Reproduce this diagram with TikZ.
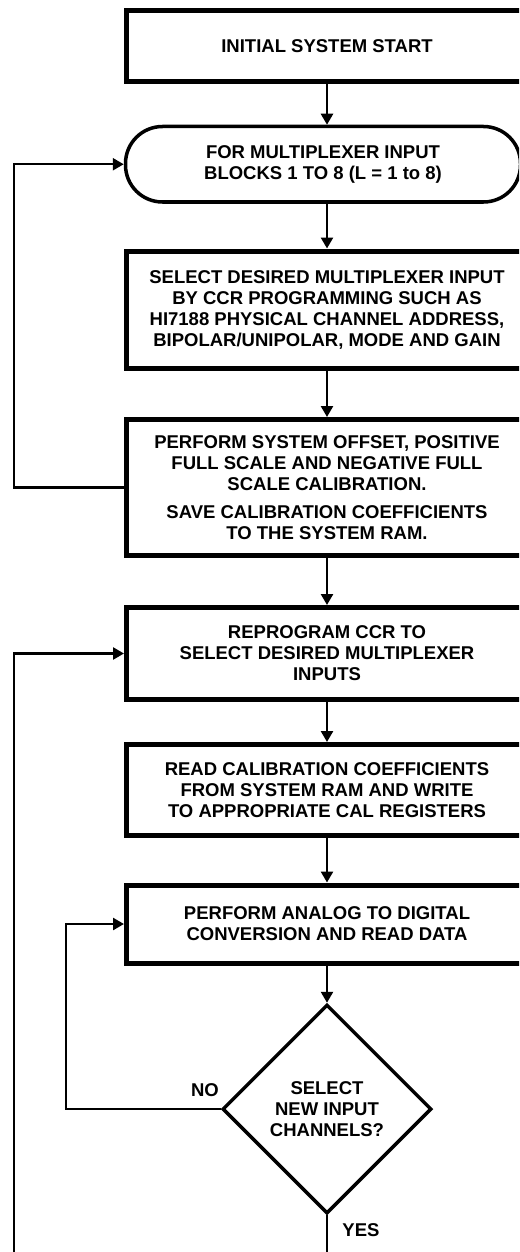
\documentclass[tikz,border=0pt]{standalone}
\usepackage{fontspec}
\setmainfont{Liberation Sans}
\usetikzlibrary{arrows.meta,shapes.geometric}
\begin{document}
\begin{tikzpicture}[x=1pt,y=-1pt,
  font={\fontsize{18.5}{21}\selectfont\bfseries},
  procbox/.style={draw, line width=5pt, rectangle, minimum width=401pt,
    inner sep=0pt, align=center},
  termbox/.style={draw, line width=3.5pt, rectangle, rounded corners=37pt,
    minimum width=395pt, minimum height=75.5pt, inner sep=0pt, align=center},
  decide/.style={draw, line width=3.5pt, diamond, minimum width=209pt,
    minimum height=209pt, inner sep=0pt, align=center},
  flow/.style={line width=2.5pt, -{Triangle[length=11pt,width=12pt]}},
  plain/.style={line width=2.5pt},
  tag/.style={inner sep=0pt},
]
\useasboundingbox (0,0) rectangle (519,1252);
\clip (0,0) rectangle (519,1252);

% process steps
\node[procbox, minimum height=71pt] (start) at (327,46) {INITIAL SYSTEM START};
\node[termbox] (loop) at (323,164.25) {FOR MULTIPLEXER INPUT\\BLOCKS 1 TO 8 (L = 1 to 8)};
\node[procbox, minimum height=117pt] (sel) at (327,309.5)
  {SELECT DESIRED MULTIPLEXER INPUT\\BY CCR PROGRAMMING SUCH AS\\HI7188 PHYSICAL CHANNEL ADDRESS,\\BIPOLAR/UNIPOLAR, MODE AND GAIN};
\node[procbox, minimum height=136pt] (cal) at (327,487.5)
  {PERFORM SYSTEM OFFSET, POSITIVE\\FULL SCALE AND NEGATIVE FULL\\SCALE CALIBRATION.\\[7pt]SAVE CALIBRATION COEFFICIENTS\\TO THE SYSTEM RAM.};
\node[procbox, minimum height=92pt] (reprog) at (327,653.5)
  {REPROGRAM CCR TO\\SELECT DESIRED MULTIPLEXER\\INPUTS};
\node[procbox, minimum height=91pt] (readcal) at (327,790)
  {READ CALIBRATION COEFFICIENTS\\FROM SYSTEM RAM AND WRITE\\TO APPROPRIATE CAL REGISTERS};
\node[procbox, minimum height=78pt] (adc) at (327,924)
  {PERFORM ANALOG TO DIGITAL\\CONVERSION AND READ DATA};
\node[decide] (ask) at (327,1109) {SELECT\\NEW INPUT\\CHANNELS?};

% branch labels
\node[tag] (no) at (205,1090) {NO};
\node[tag] (yes) at (361,1230) {YES};

% rails of the feedback loops and open ends
\coordinate (railA) at (14,0);
\coordinate (railB) at (66,0);
\coordinate (openA) at (14,1262);
\coordinate (openB) at (327,1262);

% main flow
\draw[flow] (start.south) -- (start.south |- loop.north);
\draw[flow] (sel.north |- loop.south) -- (sel.north);
\draw[flow] (sel.south) -- (cal.north);
\draw[flow] (cal.south) -- (reprog.north);
\draw[flow] (reprog.south) -- (readcal.north);
\draw[flow] (readcal.south) -- (adc.north);
\draw[flow] (adc.south) -- (ask.north);
\draw[plain] (ask.south) -- (openB);

% feedback loops
\draw[flow] (cal.west) -- (cal.west -| railA) -- (railA |- loop.west) -- (loop.west);
\draw[flow] (openA) -- (openA |- reprog.west) -- (reprog.west);
\draw[flow] (ask.west) -- (ask.west -| railB) -- (railB |- adc.west) -- (adc.west);
\end{tikzpicture}
\end{document}
